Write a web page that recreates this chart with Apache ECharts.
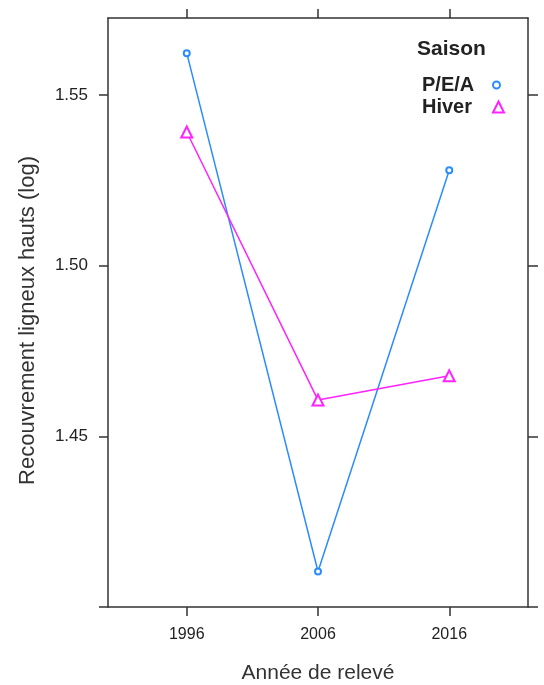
<!DOCTYPE html>
<html>
<head>
<meta charset="utf-8">
<script src="https://cdn.jsdelivr.net/npm/echarts@6/dist/echarts.min.js"></script>
<style>html,body{margin:0;padding:0;background:#fff}#c{width:544px;height:685px}</style>
</head>
<body>
<div id="c"></div>
<script>
var years = [1996, 2006, 2016];
var peaValues = [1.5622, 1.4104, 1.5279];
var hiverValues = [1.5391, 1.4606, 1.4677];
var yTickValues = [1.40, 1.45, 1.50, 1.55];
var yLabelValues = [1.45, 1.50, 1.55];
var seriesNames = ['P/E/A', 'Hiver'];
var legendTitle = 'Saison';
var xName = 'Année de relevé';
var yName = 'Recouvrement ligneux hauts (log)';

var FONT = 'Liberation Sans, Arial, sans-serif';
var AX = '#333';
var BLUE = '#2b8cff', PINK = '#ff22ff';
function pairs(xs, ys){ return xs.map(function(x,i){ return [x, ys[i]]; }); }

function legendFor(name, icon, size, top) {
  return {
    orient: 'vertical', left: 417, top: top, align: 'right',
    itemWidth: size, itemHeight: size, selectedMode: false,
    formatter: '{n|{name}}',
    textStyle: {
      fontFamily: FONT, fontSize: 20, fontWeight: 'bold', color: '#222',
      rich: {n: {fontFamily: FONT, fontSize: 20, fontWeight: 'bold', color: '#222', width: 66, align: 'left'}}
    },
    data: [{name: name, icon: icon, itemStyle: {borderWidth: 1.3}}]
  };
}

var chart = echarts.init(document.getElementById('c'), null, {renderer:'canvas'});
chart.setOption({
  animation: false,
  backgroundColor: '#fff',
  title: {
    text: legendTitle, left: 412, top: 34,
    textStyle: {fontFamily: FONT, fontSize: 21, fontWeight: 'bold', color: '#222'}
  },
  legend: [
    legendFor(seriesNames[0], 'emptyCircle', 7, 70),
    legendFor(seriesNames[1], 'emptyTriangle', 11, 92)
  ],
  grid: {left: 108, right: 16, top: 18, bottom: 78, containLabel: false, outerBoundsMode: 'none'},
  xAxis: [{
    type: 'value', min: 1990, max: 2022, position: 'bottom',
    name: xName, nameLocation: 'middle', nameGap: 56,
    nameTextStyle: {fontFamily: FONT, fontSize: 21, color: AX},
    axisLine: {show: true, onZero: false, lineStyle: {color: AX, width: 1.5}},
    axisTick: {show: true, inside: false, length: 9, customValues: years, lineStyle: {color: AX, width: 1.5}},
    axisLabel: {customValues: years, margin: 20, fontFamily: FONT, fontSize: 16, color: '#222',
      formatter: function(v){ return String(v); }},
    splitLine: {show: false}
  }, {
    type: 'value', min: 1990, max: 2022, position: 'top',
    axisLine: {show: true, onZero: false, lineStyle: {color: AX, width: 1.5}},
    axisTick: {show: true, inside: false, length: 9, customValues: years, lineStyle: {color: AX, width: 1.5}},
    axisLabel: {show: false},
    splitLine: {show: false}
  }],
  yAxis: [{
    type: 'value', min: 1.40, max: 1.5725, position: 'left',
    name: yName, nameLocation: 'middle', nameGap: 69,
    nameTextStyle: {fontFamily: FONT, fontSize: 22, color: AX, padding: [0, 16, 0, 0]},
    axisLine: {show: true, onZero: false, lineStyle: {color: AX, width: 1.5}},
    axisTick: {show: true, inside: false, length: 9, customValues: yTickValues, lineStyle: {color: AX, width: 1.5}},
    axisLabel: {customValues: yLabelValues, margin: 20, fontFamily: FONT, fontSize: 17, color: '#222',
      formatter: function(v){ return v.toFixed(2); }},
    splitLine: {show: false}
  }, {
    type: 'value', min: 1.40, max: 1.5725, position: 'right',
    axisLine: {show: true, onZero: false, lineStyle: {color: AX, width: 1.5}},
    axisTick: {show: true, inside: false, length: 10, customValues: yTickValues, lineStyle: {color: AX, width: 1.5}},
    axisLabel: {show: false},
    splitLine: {show: false}
  }],
  series: [{
    name: seriesNames[0], type: 'line', xAxisIndex: 0, yAxisIndex: 0,
    data: pairs(years, peaValues),
    symbol: 'emptyCircle', symbolSize: 6,
    lineStyle: {color: BLUE, width: 1.5},
    itemStyle: {color: BLUE, borderColor: BLUE, borderWidth: 1.2}
  }, {
    name: seriesNames[1], type: 'line', xAxisIndex: 0, yAxisIndex: 0,
    data: pairs(years, hiverValues),
    symbol: 'emptyTriangle', symbolSize: 11,
    lineStyle: {color: PINK, width: 1.5},
    itemStyle: {color: PINK, borderColor: PINK, borderWidth: 1.2}
  }]
});
</script>
</body>
</html>
